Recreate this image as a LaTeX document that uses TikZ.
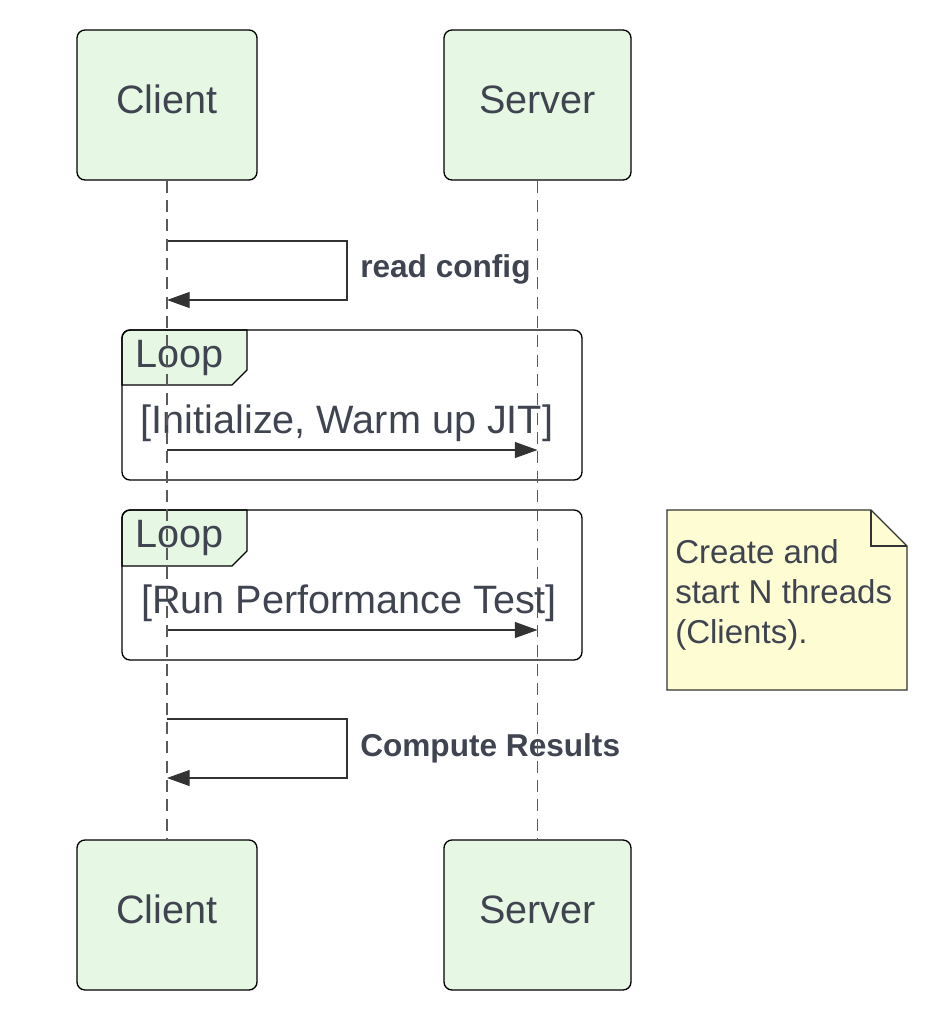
\documentclass[tikz,border=0pt]{standalone}
\usepackage{fontspec}
\setmainfont{Liberation Sans}
\usetikzlibrary{arrows.meta}
\definecolor{actfill}{HTML}{E6F8E3}
\definecolor{txt}{HTML}{3F4450}
\definecolor{notefill}{HTML}{FDFCD2}
\definecolor{ln}{HTML}{333333}
\definecolor{life}{HTML}{5A5A5A}
\begin{document}
\begin{tikzpicture}[x=0.75pt,y=-0.75pt]
\tikzset{
  actor/.style={draw=black, line width=1pt, fill=actfill, rounded corners=6pt,
    minimum height=112.5pt, text=txt, font=\fontsize{29.7}{35}\selectfont, inner sep=0pt,
    text height=21pt, text depth=9pt},
  lifeline/.style={draw=life, line width=1.2pt, dash pattern=on 9pt off 5.5pt},
  msg/.style={draw=ln, line width=0.8pt, -{Triangle[length=17pt,width=12pt]}},
  frame/.style={draw=black, line width=1pt, rounded corners=6pt},
  tab/.style={draw=black, line width=1pt, fill=actfill},
  big/.style={text=txt, font=\fontsize{29.7}{35}\selectfont, inner sep=0pt},
  bold/.style={text=txt, font=\bfseries\fontsize{23.7}{28}\selectfont, inner sep=0pt},
  notetxt/.style={text=txt, font=\fontsize{24.8}{30}\selectfont, inner sep=0pt, align=left}
}
\useasboundingbox (0,0) rectangle (940,1026);
% actors
\node[actor, minimum width=135pt] (ct) at (167,105) {Client};
\node[actor, minimum width=140.25pt] (st) at (537.5,105) {Server};
\node[actor, minimum width=135pt] (cb) at (167,915) {Client};
\node[actor, minimum width=140.25pt] (sb) at (537.5,915) {Server};
% self message 1
\coordinate (m1s) at (ct |- 0,241);
\coordinate (m1e) at (ct |- 0,300);
\draw[msg] (m1s) -- (347,241) -- (347,300) -- (m1e);
\node[bold, anchor=base west] (l1) at (360,277) {read config};
% loop 1
\draw[tab] (122,385) [rounded corners=6pt] -- (122,330) [sharp corners] -- (247,330) -- (247,370) -- (232,385) -- cycle;
\draw[frame] (122,330) rectangle (582,480);
\node[big, anchor=base west] (lp1) at (135,367) {Loop};
\node[big, anchor=base] (c1) at (347,433) {[Initialize, Warm up JIT]};
\coordinate (a1s) at (ct |- 0,450);
\coordinate (a1e) at (st |- 0,450);
\draw[msg] (a1s) -- (a1e);
% loop 2
\draw[tab] (122,566) [rounded corners=6pt] -- (122,510) [sharp corners] -- (247,510) -- (247,551) -- (232,566) -- cycle;
\draw[frame] (122,510) rectangle (582,660);
\node[big, anchor=base west] (lp2) at (135,547) {Loop};
\node[big, anchor=base] (c2) at (349,613) {[Run Performance Test]};
\coordinate (a2s) at (ct |- 0,630);
\coordinate (a2e) at (st |- 0,630);
\draw[msg] (a2s) -- (a2e);
% note
\draw[draw=ln, line width=1pt, fill=notefill] (667,510) -- (871,510) -- (907,546) -- (907,690) -- (667,690) -- cycle;
\draw[draw=ln, line width=1pt] (871,510) -- (871,546) -- (907,546);
\node[notetxt, anchor=north west] (nt) at (675,539) {Create and\\start N threads\\(Clients).};
% self message 2
\coordinate (m2s) at (ct |- 0,719);
\coordinate (m2e) at (ct |- 0,778);
\draw[msg] (m2s) -- (347,719) -- (347,778) -- (m2e);
\node[bold, anchor=base west] (l2) at (360,756) {Compute Results};
% lifelines (on top)
\draw[lifeline] (ct.south) -- (cb.north);
\draw[lifeline] (st.south) -- (sb.north);
\end{tikzpicture}
\end{document}
